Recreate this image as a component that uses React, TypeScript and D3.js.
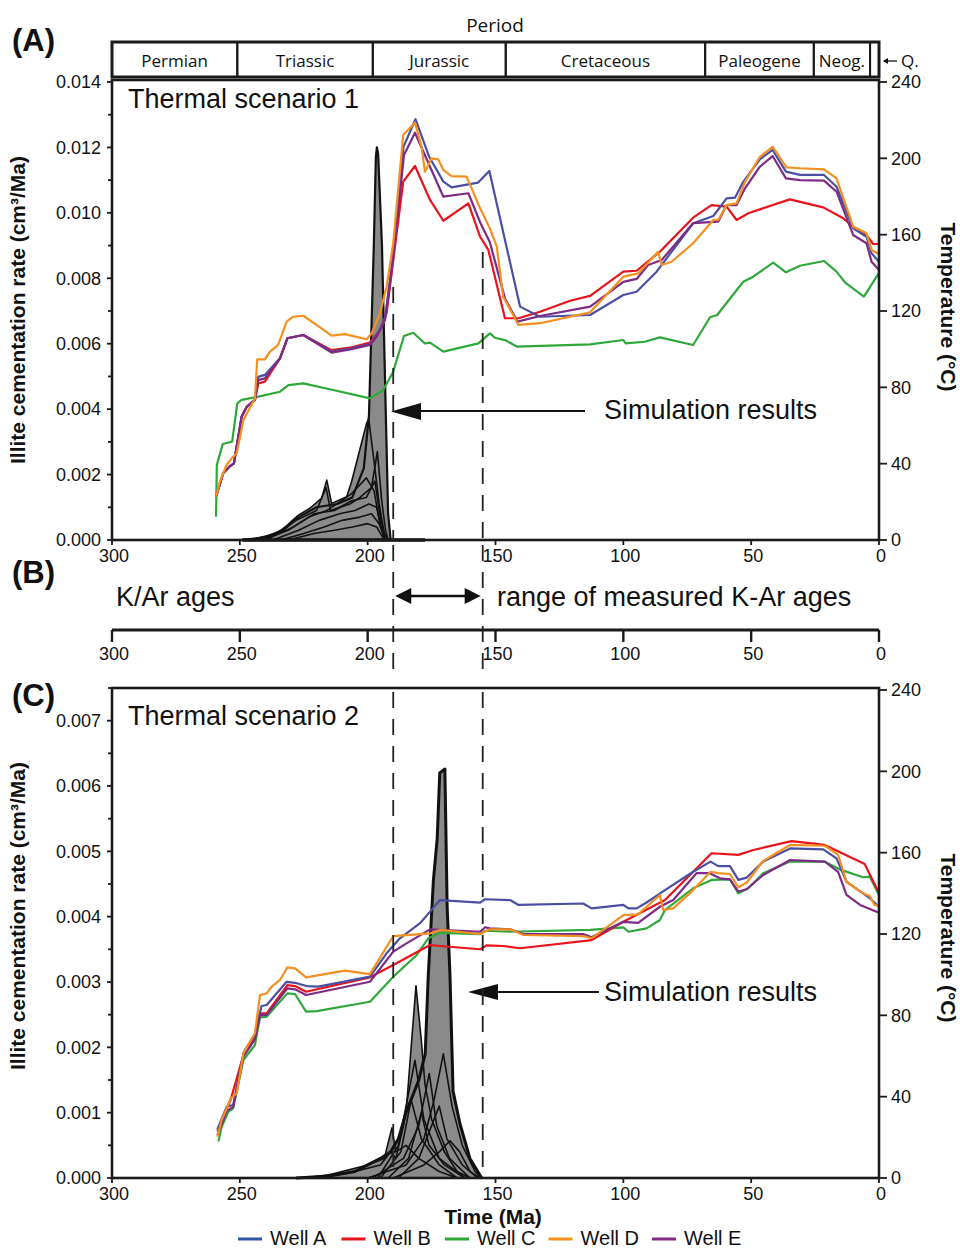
import React from 'react';
import * as d3 from 'd3';

type P = [number, number];

// ---------- Data ----------
const periodNames = ['Permian', 'Triassic', 'Jurassic', 'Cretaceous', 'Paleogene', 'Neog.', ''];
const periodBounds = [300, 251, 198, 146, 68, 25.5, 3.5, 0];

const wellNames = ['Well A', 'Well B', 'Well C', 'Well D', 'Well E'];
const wellColors = ['#4a4fa3', '#e8131b', '#2ea83a', '#f39020', '#7d2b84'];

const ageTicks = [300, 250, 200, 150, 100, 50, 0];
const tempTicks = [0, 40, 80, 120, 160, 200, 240];
const kArRange = [190, 155];

// Thermal scenario 1 temperature histories [Ma, °C]
const s1WellA: P[] = [[259.3,22.7],[256.5,35],[254.1,38.4],[252.3,40.2],[249.3,64.6],[247.3,69.8],[244.1,73.4],[242.8,85.5],[240.2,86.5],[234.3,95.2],[231.4,105.7],[225.2,107.4],[214.1,98.7],[206.3,100.5],[199.1,102.7],[196.5,107],[193.2,116],[190,150],[186,206],[181.3,220.5],[176,201],[170.4,187.8],[167.2,184.8],[156.8,187.3],[152.4,193.4],[140.4,122.3],[132.6,117],[113,117.9],[100,128.4],[94.8,130.1],[87,140.6],[72.7,166],[64.8,169.8],[59.6,179],[56.3,179.4],[53.1,187.7],[46.6,199.5],[41.6,204.4],[36.4,193],[30.9,191.3],[21.5,191.3],[16.6,185.1],[10.1,163.3],[4.9,158.9],[2.9,150.2],[0,145.8]];
const s1WellB: P[] = [[259.3,22.7],[256.5,35],[254.1,38.4],[252.3,40.2],[249.3,64.6],[247.3,69.8],[244.1,73.4],[242.8,82],[240.2,83],[234.3,95.2],[231.4,105.7],[225.2,107.4],[214.1,99.5],[206.3,101],[199.1,103.5],[195.2,110],[192.6,118.8],[186.1,187.8],[181.5,196],[175.6,178.2],[170.4,167.3],[160.6,176.4],[156,158.9],[152.8,152],[146.3,116.2],[141,116.2],[132.6,119.6],[120.8,125.4],[113,127.9],[100,140.6],[94.8,141.1],[85.7,151.1],[72.7,168.9],[65.5,175.5],[59.6,174.7],[55.7,167.7],[51.1,171.2],[34.9,178.5],[21.8,174.3],[14,168.6],[10.1,164.2],[4.9,159.8],[2.3,155.1],[0,155.1]];
const s1WellC: P[] = [[259.3,12.2],[259,39.3],[256.7,50.3],[253,51.5],[251,71.6],[249.3,73.4],[242.8,75.1],[234.3,77.7],[231,81.2],[225.2,82.1],[213.5,78.6],[199.1,74.2],[193.9,78.6],[190,88.2],[185.8,106.9],[182.2,108.6],[177.6,103],[175.6,103.4],[170.4,98.7],[156.7,103],[152.2,108.3],[150.2,106],[146,104.6],[141.5,101.3],[113,102.5],[100,104.8],[99.1,103],[91.6,103.9],[85.7,106.2],[72.7,102.2],[66.1,116.7],[63.3,117.9],[53.1,135.3],[49.2,138],[41.4,145.3],[36.4,140.3],[30.9,143.7],[21.5,146.2],[16.6,140.6],[13.3,135],[5.9,127.5],[0,140]];
const s1WellD: P[] = [[259.3,22.7],[257.8,30.6],[255.2,39.3],[253.2,42.8],[251.2,45.4],[248.6,62.9],[244.1,74.2],[243.2,94.7],[240.2,94.7],[238.2,98.7],[235,102.2],[231.7,114.4],[229.1,117],[225.2,117.5],[219.3,112.1],[214.1,107.1],[208.9,107.9],[200.4,105.2],[198.4,108.3],[195.2,118.8],[192.6,132.7],[190,155.5],[186.1,212.2],[181.5,218.7],[178.9,206],[177.6,193],[175,200],[172.4,199.5],[170.4,193.9],[167.2,190.7],[161.3,190.4],[156,173.8],[152.2,163.3],[149.5,153.7],[147,127.5],[141,112.7],[132.6,113.6],[113,119.3],[100,138],[94.2,139.7],[86.4,151],[85,144.1],[81.1,145.8],[72.7,155.5],[64.8,167.7],[62.9,167.7],[59.6,175.5],[55.7,176.4],[52.4,187.7],[46.6,200.8],[41.6,206],[36.2,195.3],[30.9,194.8],[21.5,194.2],[16.6,189.5],[10.1,164.2],[4.9,160.7],[2.9,152],[0,149.9]];
const s1WellE: P[] = [[259.3,22.7],[256.5,35],[254.1,38.4],[252.3,40.2],[249.3,64.6],[247.3,69.8],[244.1,73.4],[242.8,83.8],[240.2,84.7],[234.3,95.2],[231.4,105.7],[225.2,107.4],[214.1,98.2],[206.3,100],[199.1,102.2],[196.5,106.5],[193.2,115.3],[190,148],[185.8,201.7],[181.5,213.4],[170.4,179.9],[160.6,181.7],[156,166.4],[152.2,156],[146.3,126.6],[141.4,114.4],[132.6,117.4],[113,122.3],[100,135.3],[94.8,136.8],[90.3,144.1],[85,146.7],[72.7,166],[62.9,166.8],[59.6,175.5],[55.7,175.5],[52.4,184.3],[46.6,195.6],[41.6,201.2],[36.4,189.5],[30.9,188.6],[21.5,188.3],[16.6,182.5],[10.1,159.8],[4.9,155.5],[2.9,145.8],[0,141.5]];

// Thermal scenario 2 temperature histories [Ma, °C]
const s2WellA: P[] = [[258.8,24],[255.1,35.1],[252.6,35.9],[248.4,62.1],[244.1,70.8],[241.5,84.6],[239.5,85.1],[231.7,96.5],[228.4,96],[223.9,94.4],[219.3,94.1],[199.1,99],[192.6,110.5],[187.4,117.9],[179.5,125.3],[175.6,131],[171.7,136.7],[156,135.4],[154.1,137.1],[144.3,136.7],[141,134.3],[115.7,135],[112.4,132.6],[100,134.3],[98,132.6],[94.8,132.6],[90.9,135.5],[83.7,141.6],[72.7,150.6],[65.9,155.6],[62.9,153.4],[58.3,153.4],[55,146.6],[51.8,147.7],[45.3,155.6],[34.8,162.1],[21.8,161.6],[16.6,157.2],[12.7,145.7],[3.6,137.6],[0,133.4]];
const s2WellB: P[] = [[258.8,23],[253.6,38.4],[248.6,60.5],[244.1,69.5],[242.1,81],[239.5,81],[231.4,94.9],[228.4,94.4],[224.1,91.6],[199.1,98.7],[190,104.8],[175.6,114.6],[171.7,114.1],[156,112.5],[153.5,114.4],[147,114.1],[140.4,113],[112.4,117],[100,126],[83.7,136.7],[72.7,150.6],[65.5,159.7],[55,158.9],[49.2,161.3],[34.2,165.7],[21.2,163.8],[5.6,154.4],[0,140]];
const s2WellC: P[] = [[258.4,17.9],[257.1,25.2],[254.5,32.6],[252.6,34.3],[248.6,58],[244.1,65.4],[242.1,79],[239.5,79.3],[231.4,90.8],[228.4,90.5],[224.1,81.8],[219.9,82.1],[199.1,86.7],[190,99],[180.8,109.7],[176.3,117.9],[171.7,120.6],[156,119.9],[154.1,121.6],[144.3,121.1],[113,122],[100,123.3],[98,121.1],[90.9,122.8],[85.7,126.9],[83.7,131.8],[72.7,142.5],[65.5,146.6],[58.3,146.9],[55,140],[51.1,142.5],[45.3,149.9],[34.8,155.6],[21.2,155.6],[15.4,151.8],[6.3,147.9],[3.6,148.2],[0,139.2]];
const s2WellD: P[] = [[258.8,20.3],[257.1,28.5],[255.1,34.3],[253.6,39.2],[251.2,41.6],[248.6,61.3],[244.1,71.2],[242.1,90],[239.5,90.8],[237.5,94.1],[234.3,97.4],[231.4,103.6],[228.4,103.1],[224.1,98.7],[208.9,102],[199.1,100.3],[190,119],[175.6,120.3],[171.7,122],[156,120],[152.2,122.3],[144.3,122.3],[139.1,119.5],[115.7,119],[112.4,117.9],[100,129.3],[94.2,129.7],[85.7,139.2],[84.4,131.8],[80.5,132.6],[72.7,141.6],[65.9,150.6],[62.9,149.9],[58.3,149.5],[55,143],[51.8,145.2],[45.3,155.9],[34.8,163.8],[21.2,163.4],[16,158.9],[12.7,145.7],[6.3,140],[3.6,138.7],[1.7,134.3],[0,133.8]];
const s2WellE: P[] = [[258.8,21.1],[255.1,33],[252.6,35],[248.6,59.7],[244.1,68.2],[242.1,80.2],[239.5,80.2],[231.4,93.3],[228.4,92.8],[224.1,90],[199.1,96.5],[190,111.3],[184.8,115.4],[175.6,122.3],[156,121.1],[154.1,123.3],[152.2,122.8],[144.3,122.3],[139.1,120],[115.7,120],[112.4,118.4],[100,126],[94.2,125.5],[85.7,133.4],[80.5,136.7],[71.4,149.9],[66.2,149.9],[62.2,147.4],[58.3,146.9],[55,140.9],[51.8,142],[45.3,149],[34.8,156.4],[21.2,155.6],[16,150.6],[12.7,139.2],[7.4,134.3],[0,130.5]];

// Simulated illite cementation rates, scenario 1 [Ma, cm³/Ma]
const simA1: P[] = [[249,0],[240,0.00005],[233,0.0003],[227,0.0007],[220,0.001],[212,0.0011],[206,0.0013],[201.5,0.0022],[199.5,0.0038],[197.6,0.009],[196.8,0.0117],[196.4,0.012],[195.9,0.0118],[194.4,0.009],[192.8,0.0035],[192,0.0008],[191,0]];
const simA2: P[] = [[250,0],[240,0.0001],[233.6,0.0003],[227.1,0.00076],[222.6,0.00097],[218,0.00128],[216,0.00183],[214.1,0.00112],[208.2,0.00132],[206.3,0.00178],[200.4,0.00357],[199.6,0.0037],[197.5,0.0024],[195.5,0.0011],[193.5,0.0002],[192,0]];
const simA3: P[] = [[246,0],[236,0.0002],[228,0.0006],[220,0.0009],[216.3,0.0016],[214.5,0.0009],[207,0.0011],[203,0.0013],[198.5,0.0016],[196.2,0.0027],[194.5,0.0012],[193,0.0003],[192,0]];
const simA4: P[] = [[242,0],[231,0.0003],[223,0.0007],[216,0.0009],[206.5,0.0014],[200.5,0.0019],[197.5,0.0015],[195,0.0004],[193,0]];
const simA5: P[] = [[240,0],[229,0.0004],[221,0.0008],[213,0.0009],[206.3,0.0012],[200.5,0.0013],[197.2,0.0018],[195.3,0.0008],[193,0]];
const simA6: P[] = [[237,0],[227,0.0003],[219,0.0006],[211,0.0008],[205,0.0009],[199.5,0.0011],[196.5,0.001],[193.5,0]];
const simA7: P[] = [[234,0],[225,0.0002],[217,0.0004],[210,0.0006],[203,0.0007],[198.5,0.0008],[195.5,0.0005],[193,0]];
const simA8: P[] = [[231,0],[221,0.0002],[213,0.0003],[206,0.0004],[200,0.0005],[196.5,0.0004],[193.5,0]];
const simABase: P[] = [[249,0],[177.6,0]];

// Simulated illite cementation rates, scenario 2 [Ma, cm³/Ma]
const simC1: P[] = [[228,0],[215,0.00003],[205,0.0001],[200,0.0002],[195,0.0003],[191,0.0004],[188,0.0006],[185,0.001],[180,0.0015],[177.5,0.0019],[176.3,0.0031],[174.3,0.00455],[172.8,0.0052],[171.8,0.0062],[169.8,0.00626],[168.9,0.00414],[167.8,0.0031],[166.6,0.00133],[163.9,0.00083],[160,0.0003],[155.4,0]];
const simC2: P[] = [[225,0],[205,0.0001],[195,0.0002],[191,0.0004],[189,0.0003],[186,0.0008],[184.8,0.00108],[183,0.002],[181.1,0.00294],[179,0.0021],[177.6,0.00144],[175,0.0009],[170,0.0004],[165,0.0001],[160,0]];
const simC3: P[] = [[220,0],[200,0.0002],[193.5,0.0003],[190.5,0.00077],[189,0.0004],[185,0.0005],[180,0.0003],[172,0.0001],[165,0]];
const simC4: P[] = [[200,0],[185,0.0002],[178,0.0006],[174,0.0012],[170.4,0.0019],[167,0.0011],[163,0.0005],[158,0.0001],[155.5,0]];
const simC5: P[] = [[198,0],[186,0.0003],[180,0.0008],[175.9,0.0016],[173,0.0008],[168,0.0003],[160,0]];
const simC6: P[] = [[196,0],[188,0.0005],[181.5,0.0018],[178,0.0009],[172,0.0003],[162,0]];
const simC7: P[] = [[190,0],[178,0.0002],[172,0.0004],[167.8,0.00057],[164,0.0004],[160,0.0001],[156,0]];
const simC8: P[] = [[195,0],[187,0.0004],[183,0.0012],[179,0.0006],[172,0.0002],[165,0]];
const simC9: P[] = [[192,0],[184,0.0003],[179,0.001],[176,0.0005],[170,0.0002],[162,0]];
const simC10: P[] = [[188,0],[180,0.0003],[175,0.0008],[172,0.0011],[169,0.0006],[163,0.0002],[157,0]];

const scenario1 = [s1WellA, s1WellB, s1WellC, s1WellD, s1WellE];
const scenario2 = [s2WellA, s2WellB, s2WellC, s2WellD, s2WellE];
const simsA = [simA1, simA2, simA3, simA4, simA5, simA6, simA7, simA8];
const simsC = [simC1, simC2, simC3, simC4, simC5, simC6, simC7, simC8, simC9, simC10];

// ---------- Layout ----------
const X0 = 112, X1 = 879;
const A_TOP = 80, A_BOT = 540;
const C_TOP = 688, C_BOT = 1178;
const drawOrder = [2, 1, 0, 4, 3];
const SANS = "'Liberation Sans', Arial, Helvetica, sans-serif";
const MYRIAD = "'Open Sans', 'Liberation Sans', sans-serif";

export default function App() {
  const x = d3.scaleLinear().domain([300, 0]).range([X0, X1]);
  const yA = d3.scaleLinear().domain([0, 0.014]).range([A_BOT, 82]);
  const tA = d3.scaleLinear().domain([0, 240]).range([A_BOT, 82]);
  const yC = d3.scaleLinear().domain([0, 0.0075]).range([C_BOT, C_TOP]);
  const tC = d3.scaleLinear().domain([0, 240]).range([C_BOT, 690]);

  const panel = (
    key: string,
    top: number,
    bot: number,
    yL: d3.ScaleLinear<number, number>,
    tR: d3.ScaleLinear<number, number>,
    wells: P[][],
    sims: P[][],
    minorStep: number,
    nMinor: number,
    labelEvery: number,
    extraLines: P[][],
    mainWidth: number
  ) => {
    const lineT = d3.line<P>().x(d => x(d[0])).y(d => tR(d[1]));
    const lineS = d3.line<P>().x(d => x(d[0])).y(d => yL(d[1]));
    const areaS = d3.area<P>().x(d => x(d[0])).y0(yL(0)).y1(d => yL(d[1]));
    const minor = d3.range(0, nMinor + 1);
    return (
      <g key={key}>
        {sims.map((s, i) => (
          <path key={'f' + i} d={areaS(s) || ''} fill="#8a8a8a" stroke="none" />
        ))}
        {sims.map((s, i) => (
          <path key={'s' + i} d={lineS(s) || ''} fill="none" stroke="#111" strokeWidth={i === 0 ? mainWidth : 1.6} strokeLinejoin="round" />
        ))}
        {extraLines.map((s, i) => (
          <path key={'e' + i} d={lineS(s) || ''} fill="none" stroke="#111" strokeWidth={3.5} />
        ))}
        {drawOrder.map(i => (
          <path key={'w' + i} d={lineT(wells[i]) || ''} fill="none" stroke={wellColors[i]} strokeWidth={2.2} strokeLinejoin="round" />
        ))}
        <rect x={X0} y={top} width={X1 - X0} height={bot - top} fill="none" stroke="#1a1a1a" strokeWidth={2.6} />
        {minor.map(k => {
          const v = k * minorStep;
          const yy = yL(v);
          const major = k % labelEvery === 0;
          return (
            <g key={'l' + k}>
              <line x1={X0 - (major ? 5 : 4)} x2={X0} y1={yy} y2={yy} stroke="#1a1a1a" strokeWidth={1.8} />
              {major && (
                <text x={101} y={yy} dy="0.35em" textAnchor="end" fontSize={18} fontFamily={SANS} fill="#111">
                  {v.toFixed(3)}
                </text>
              )}
            </g>
          );
        })}
        {tempTicks.map(t => (
          <g key={'r' + t}>
            <line x1={X1} x2={X1 + 8} y1={tR(t)} y2={tR(t)} stroke="#1a1a1a" strokeWidth={1.8} />
            <text x={891} y={tR(t)} dy="0.35em" fontSize={18} fontFamily={SANS} fill="#111">{t}</text>
          </g>
        ))}
        {ageTicks.map(a => (
          <g key={'b' + a}>
            <line x1={x(a)} x2={x(a)} y1={bot} y2={bot + 5} stroke="#1a1a1a" strokeWidth={1.8} />
            <text x={x(a) + 2} y={bot + 16} dy="0.35em" textAnchor="middle" fontSize={18} fontFamily={SANS} fill="#111">{a}</text>
          </g>
        ))}
      </g>
    );
  };

  const legendX = 238;
  const legendStep = 103.5;

  return (
    <svg width={960} height={1250} style={{ position: 'absolute', left: 0, top: 0, background: '#fff' }} fontFamily={SANS}>
      <rect x={0} y={0} width={960} height={1250} fill="#fff" />

      {/* Period bar */}
      <text x={495} y={25} dy="0.35em" textAnchor="middle" fontSize={19} fontFamily={MYRIAD} fill="#111">Period</text>
      {periodNames.map((n, i) => {
        const a = x(periodBounds[i]);
        const b = x(periodBounds[i + 1]);
        return (
          <g key={'p' + i}>
            <rect x={a} y={42} width={b - a} height={35} fill="none" stroke="#1a1a1a" strokeWidth={2} />
            {n && (
              <text x={(a + b) / 2} y={61} dy="0.35em" textAnchor="middle" fontSize={17} fontFamily={MYRIAD} fill="#111">{n}</text>
            )}
          </g>
        );
      })}
      <rect x={x(300)} y={42} width={x(0) - x(300)} height={35} fill="none" stroke="#1a1a1a" strokeWidth={3} />
      <line x1={884} x2={897} y1={61} y2={61} stroke="#111" strokeWidth={1.3} />
      <path d="M883,61 L888,58 L888,64 Z" fill="#111" />
      <text x={901} y={61} dy="0.35em" fontSize={17} fontFamily={MYRIAD} fill="#111">Q.</text>

      {/* Panel letters */}
      <text x={12} y={40} dy="0.35em" fontSize={31} fontWeight="bold" fill="#111">(A)</text>
      <text x={12} y={572} dy="0.35em" fontSize={31} fontWeight="bold" fill="#111">(B)</text>
      <text x={12} y={695} dy="0.35em" fontSize={31} fontWeight="bold" fill="#111">(C)</text>

      {panel('A', A_TOP, A_BOT, yA, tA, scenario1, simsA, 0.001, 14, 2, [simABase], 2.2)}
      {panel('C', C_TOP, C_BOT, yC, tC, scenario2, simsC, 0.0005, 15, 2, [], 3)}

      {/* Panel titles */}
      <text x={128} y={108} fontSize={27} fill="#111">Thermal scenario 1</text>
      <text x={128} y={725} fontSize={27} fill="#111">Thermal scenario 2</text>

      {/* Simulation results annotations */}
      <line x1={420} x2={585} y1={411} y2={411} stroke="#111" strokeWidth={2} />
      <path d="M391,411.5 L421,403 L421,420 Z" fill="#111" />
      <text x={604} y={419} fontSize={27} fill="#111">Simulation results</text>
      <line x1={497} x2={599} y1={992} y2={992} stroke="#111" strokeWidth={2} />
      <path d="M468,992 L498,984 L498,1000 Z" fill="#111" />
      <text x={604} y={1001} fontSize={27} fill="#111">Simulation results</text>

      {/* Panel B */}
      <text x={116} y={606} fontSize={27} fill="#111">K/Ar ages</text>
      <text x={497} y={606} fontSize={27} fill="#111">range of measured K-Ar ages</text>
      <line x1={x(kArRange[0]) + 14} x2={x(kArRange[1]) - 14} y1={596} y2={596} stroke="#111" strokeWidth={2.5} />
      <path d={`M${x(kArRange[0]) + 2},596 L${x(kArRange[0]) + 18},588 L${x(kArRange[0]) + 18},604 Z`} fill="#111" />
      <path d={`M${x(kArRange[1]) - 2},596 L${x(kArRange[1]) - 18},588 L${x(kArRange[1]) - 18},604 Z`} fill="#111" />
      <line x1={X0} x2={X1} y1={630} y2={630} stroke="#1a1a1a" strokeWidth={3} />
      {ageTicks.map(a => (
        <g key={'kb' + a}>
          <line x1={x(a)} x2={x(a)} y1={630} y2={642} stroke="#1a1a1a" strokeWidth={2.4} />
          <text x={x(a) + 2} y={654} dy="0.35em" textAnchor="middle" fontSize={18} fill="#111">{a}</text>
        </g>
      ))}

      {/* Dashed K-Ar range lines */}
      {kArRange.map((a, i) => (
        <g key={'d' + a}>
          <line x1={x(a)} x2={x(a)} y1={i === 0 ? 287 : 252} y2={A_BOT} stroke="#222" strokeWidth={1.8} strokeDasharray="16,11" />
          <line x1={x(a)} x2={x(a)} y1={545} y2={678} stroke="#222" strokeWidth={1.8} strokeDasharray="16,11" />
          <line x1={x(a)} x2={x(a)} y1={692} y2={C_BOT} stroke="#222" strokeWidth={1.8} strokeDasharray="16,11" />
        </g>
      ))}

      {/* Axis titles */}
      <text transform="translate(25,310) rotate(-90)" textAnchor="middle" fontSize={21} fontWeight="bold" fill="#111">Illite cementation rate (cm³/Ma)</text>
      <text transform="translate(25,916) rotate(-90)" textAnchor="middle" fontSize={21} fontWeight="bold" fill="#111">Illite cementation rate (cm³/Ma)</text>
      <text transform="translate(941,307) rotate(90)" textAnchor="middle" fontSize={21} fontWeight="bold" fill="#111">Temperature (°C)</text>
      <text transform="translate(941,938) rotate(90)" textAnchor="middle" fontSize={21} fontWeight="bold" fill="#111">Temperature (°C)</text>
      <text x={493} y={1217} dy="0.35em" textAnchor="middle" fontSize={21} fontWeight="bold" fill="#111">Time (Ma)</text>

      {/* Legend */}
      {wellNames.map((n, i) => {
        const lx = legendX + i * legendStep;
        return (
          <g key={'lg' + i}>
            <line x1={lx} x2={lx + 24} y1={1239} y2={1239} stroke={i === 0 ? '#2f55a4' : wellColors[i]} strokeWidth={3} />
            <text x={lx + 32} y={1245} fontSize={20} fill="#111">{n}</text>
          </g>
        );
      })}
    </svg>
  );
}
